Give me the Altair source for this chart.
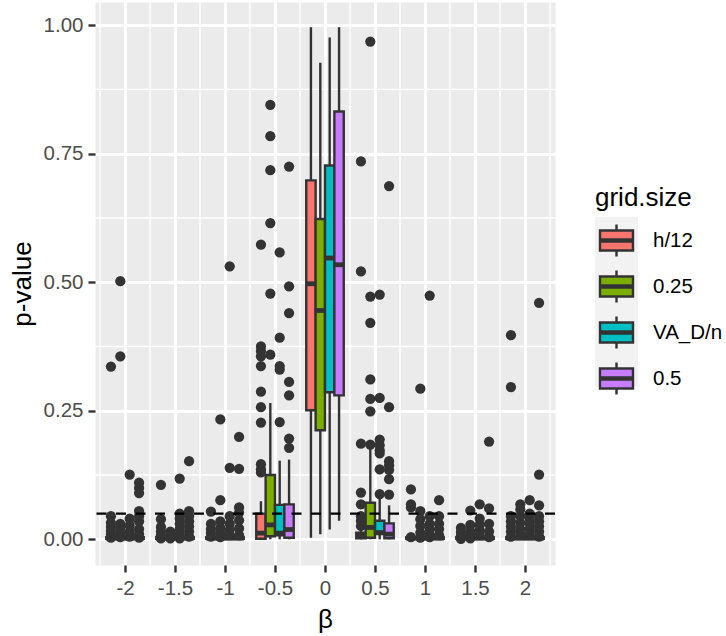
import altair as alt
import pandas as pd

# Effect sizes on the x axis and the grid sizes compared at each of them
betas = [-2, -1.5, -1, -0.5, 0, 0.5, 1, 1.5, 2]
grid_sizes = ["h/12", "0.25", "VA_D/n", "0.5"]
box_colors = ["#F8766D", "#7CAE00", "#00BFC4", "#C77CFF"]

# Box summaries per grid size, one entry per beta
whisker_low = {
    "h/12":   [0, 0, 0, 0, 0.003, 0, 0, 0, 0],
    "0.25":   [0, 0, 0, 0, 0.010, 0, 0, 0, 0],
    "VA_D/n": [0, 0, 0, 0, 0.019, 0, 0, 0, 0],
    "0.5":    [0, 0, 0, 0, 0.036, 0, 0, 0, 0],
}
lower_quartile = {
    "h/12":   [0.001, 0.001, 0.001, 0.001, 0.251, 0.002, 0.001, 0.001, 0.001],
    "0.25":   [0.001, 0.001, 0.001, 0.006, 0.212, 0.003, 0.001, 0.001, 0.001],
    "VA_D/n": [0.001, 0.001, 0.001, 0.008, 0.286, 0.010, 0.001, 0.001, 0.001],
    "0.5":    [0.001, 0.001, 0.001, 0.003, 0.280, 0.002, 0.001, 0.001, 0.001],
}
medians = {
    "h/12":   [0.002, 0.002, 0.002, 0.012, 0.497, 0.008, 0.002, 0.002, 0.002],
    "0.25":   [0.002, 0.002, 0.002, 0.028, 0.445, 0.023, 0.002, 0.002, 0.002],
    "VA_D/n": [0.002, 0.002, 0.002, 0.012, 0.547, 0.013, 0.002, 0.002, 0.002],
    "0.5":    [0.002, 0.002, 0.002, 0.019, 0.534, 0.010, 0.002, 0.002, 0.002],
}
upper_quartile = {
    "h/12":   [0.004, 0.004, 0.004, 0.050, 0.698, 0.013, 0.004, 0.004, 0.004],
    "0.25":   [0.004, 0.004, 0.004, 0.125, 0.623, 0.071, 0.004, 0.004, 0.004],
    "VA_D/n": [0.004, 0.004, 0.004, 0.067, 0.727, 0.036, 0.004, 0.004, 0.004],
    "0.5":    [0.004, 0.004, 0.004, 0.068, 0.832, 0.031, 0.004, 0.004, 0.004],
}
whisker_high = {
    "h/12":   [0.006, 0.006, 0.006, 0.074, 0.996, 0.020, 0.006, 0.006, 0.006],
    "0.25":   [0.006, 0.006, 0.006, 0.265, 0.927, 0.176, 0.006, 0.006, 0.006],
    "VA_D/n": [0.006, 0.006, 0.006, 0.153, 0.976, 0.082, 0.006, 0.006, 0.006],
    "0.5":    [0.006, 0.006, 0.006, 0.155, 0.996, 0.066, 0.006, 0.006, 0.006],
}

# Outlying p-values per grid size, one list per beta
outliers = {
    "h/12": [
        [0.336, 0.045, 0.032, 0.024, 0.016, 0.009, 0.003],
        [0.106, 0.039, 0.024, 0.015, 0.008, 0.002],
        [0.054, 0.030, 0.020, 0.012, 0.005],
        [0.573, 0.375, 0.366, 0.356, 0.337, 0.287, 0.257, 0.227, 0.146, 0.136, 0.130],
        [],
        [0.735, 0.521, 0.186, 0.091, 0.068, 0.045, 0.036, 0.026],
        [0.097, 0.068, 0.062, 0.004],
        [0.022, 0.014, 0.007, 0.001],
        [0.397, 0.296, 0.045, 0.035, 0.025, 0.015, 0.005],
    ],
    "0.25": [
        [0.502, 0.356, 0.030, 0.022, 0.012, 0.004],
        [0.015, 0.008, 0.002],
        [0.233, 0.076, 0.035, 0.022, 0.012, 0.004],
        [0.845, 0.784, 0.718, 0.615, 0.478, 0.359],
        [],
        [0.968, 0.472, 0.421, 0.311, 0.273, 0.249, 0.184],
        [0.293, 0.055, 0.039, 0.026, 0.013, 0.003],
        [0.056, 0.028, 0.016, 0.008, 0.002],
        [0.068, 0.058, 0.045, 0.032, 0.020, 0.010],
    ],
    "VA_D/n": [
        [0.126, 0.040, 0.027, 0.015, 0.005],
        [0.118, 0.050, 0.040, 0.030, 0.020, 0.010, 0.002],
        [0.531, 0.139, 0.045, 0.030, 0.018, 0.008],
        [0.558, 0.392, 0.337, 0.330, 0.228],
        [],
        [0.476, 0.275, 0.194, 0.183, 0.173, 0.167, 0.136, 0.088],
        [0.474, 0.045, 0.030, 0.020, 0.010, 0.004],
        [0.068, 0.040, 0.028, 0.018, 0.008],
        [0.076, 0.050, 0.040, 0.030, 0.020, 0.010],
    ],
    "0.5": [
        [0.110, 0.100, 0.090, 0.055, 0.045, 0.035, 0.020, 0.010, 0.003],
        [0.152, 0.055, 0.045, 0.035, 0.025, 0.015, 0.005],
        [0.199, 0.137, 0.062, 0.052, 0.037, 0.021, 0.008],
        [0.725, 0.492, 0.440, 0.306, 0.280, 0.196, 0.178],
        [],
        [0.687, 0.257, 0.152, 0.144, 0.135, 0.117, 0.087],
        [0.076, 0.045, 0.030, 0.020, 0.008],
        [0.190, 0.060, 0.030, 0.015, 0.004],
        [0.460, 0.126, 0.066, 0.045, 0.035, 0.025, 0.015, 0.005],
    ],
}

significance_level = [0.05]
y_ticks = [0, 0.25, 0.5, 0.75, 1.0]
x_minor = [-2.25, -1.75, -1.25, -0.75, -0.25, 0.25, 0.75, 1.25, 1.75, 2.25]
y_minor = [0.125, 0.375, 0.625, 0.875]

# Dodge the four boxes side by side around each beta
group_width = 0.375
box_width = group_width / len(grid_sizes)
offsets = [(i - 1.5) * box_width for i in range(len(grid_sizes))]

box_rows, point_rows = [], []
for gi, g in enumerate(grid_sizes):
    for bi, b in enumerate(betas):
        c = b + offsets[gi]
        box_rows.append({
            "grid": g, "center": c,
            "left": c - box_width / 2, "right": c + box_width / 2,
            "lo": whisker_low[g][bi], "q1": lower_quartile[g][bi],
            "med": medians[g][bi], "q3": upper_quartile[g][bi],
            "hi": whisker_high[g][bi],
        })
        for v in outliers[g][bi]:
            point_rows.append({"grid": g, "center": c, "p": v})

boxes = pd.DataFrame(box_rows)
points = pd.DataFrame(point_rows)

FONT = "Liberation Sans, Arial, sans-serif"
DARK = "#333333"

xs = alt.Scale(domain=[-2.3, 2.3], nice=False, zero=False)
ys = alt.Scale(domain=[-0.05, 1.045], nice=False, zero=False)
x_axis = alt.Axis(values=betas, title="β", labelExpr="datum.value + ''",
                  labelPadding=6, titlePadding=8)
y_axis = alt.Axis(values=y_ticks, format=".2f", title="p-value",
                  labelPadding=5, titlePadding=8)

# Legend glyph: box with median bar and whisker stubs
box_glyph = ("M-0.825,-0.5H0.825V0.5H-0.825Z "
             "M-0.825,-0.05H0.825V0.05H-0.825Z "
             "M0,-0.5V-0.8 M0,0.5V0.8")

minor_v = alt.Chart(pd.DataFrame({"x": x_minor})).mark_rule(
    color="white", strokeWidth=1.4
).encode(x=alt.X("x:Q", scale=xs, axis=x_axis))

minor_h = alt.Chart(pd.DataFrame({"y": y_minor})).mark_rule(
    color="white", strokeWidth=1.4
).encode(y=alt.Y("y:Q", scale=ys, axis=y_axis))

key_background = alt.Chart(pd.DataFrame({"k": [0]})).mark_rect(
    color="#F2F2F2"
).encode(x=alt.value(500), x2=alt.value(543), y=alt.value(215), y2=alt.value(385))

whiskers = alt.Chart(boxes).mark_rule(color=DARK, strokeWidth=2.4).encode(
    x=alt.X("center:Q", scale=xs, axis=x_axis),
    y=alt.Y("lo:Q", scale=ys, axis=y_axis),
    y2="hi:Q",
)

box_rect = alt.Chart(boxes).mark_rect(stroke=DARK, strokeWidth=2.4, opacity=1).encode(
    x=alt.X("left:Q", scale=xs, axis=x_axis),
    x2="right:Q",
    y=alt.Y("q1:Q", scale=ys, axis=y_axis),
    y2="q3:Q",
    fill=alt.Fill(
        "grid:N",
        scale=alt.Scale(domain=grid_sizes, range=box_colors),
        legend=alt.Legend(
            title="grid.size", orient="none", legendX=500, legendY=183,
            padding=0, titlePadding=8, titleFontSize=26, titleFontWeight="normal",
            titleColor="black", titleFont=FONT,
            labelFontSize=20.5, labelColor="black", labelFont=FONT, labelOffset=15,
            symbolType=box_glyph, symbolSize=1600, symbolStrokeColor=DARK,
            symbolStrokeWidth=2.4, symbolOpacity=1, rowPadding=3,
        ),
    ),
)

median_bar = alt.Chart(boxes).mark_rule(color=DARK, strokeWidth=4.8).encode(
    x=alt.X("left:Q", scale=xs, axis=x_axis),
    x2="right:Q",
    y=alt.Y("med:Q", scale=ys, axis=y_axis),
)

outlier_pts = alt.Chart(points).mark_circle(size=105, color=DARK, opacity=1).encode(
    x=alt.X("center:Q", scale=xs, axis=x_axis),
    y=alt.Y("p:Q", scale=ys, axis=y_axis),
)

threshold = alt.Chart(pd.DataFrame({"p": significance_level})).mark_rule(
    color="black", strokeWidth=2.4, strokeDash=[10, 9.5]
).encode(y=alt.Y("p:Q", scale=ys, axis=y_axis))

chart = alt.layer(
    minor_v, minor_h, key_background, whiskers, box_rect, median_bar,
    outlier_pts, threshold,
).properties(
    width=460, height=563,
    autosize=alt.AutoSizeParams(type="none"),
    padding={"left": 95, "top": 2, "right": 171, "bottom": 71},
    background="white",
).configure_view(
    fill="#EBEBEB", stroke="transparent"
).configure_axis(
    domain=False, grid=True, gridColor="white", gridWidth=2.8, gridOpacity=1,
    tickColor=DARK, tickSize=7, tickWidth=2.4,
    labelColor="#4D4D4D", labelFontSize=20.5, labelFont=FONT,
    titleColor="black", titleFontSize=26, titleFontWeight="normal", titleFont=FONT,
)

chart.save("out.html", embed_options={"renderer": "svg", "actions": False})
